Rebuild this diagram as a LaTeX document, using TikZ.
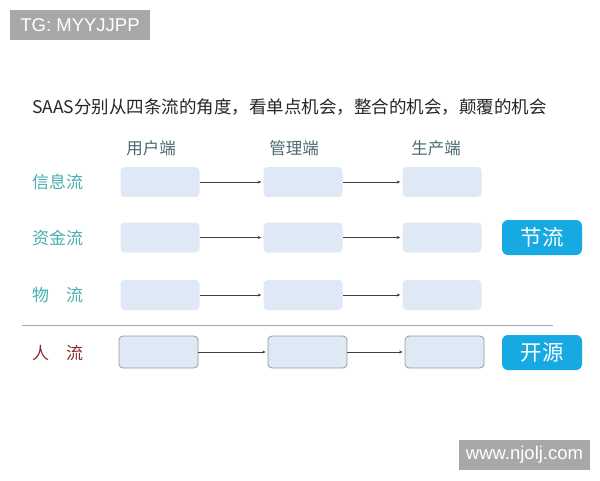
\documentclass[tikz,border=0pt]{standalone}
\usepackage{fontspec}
\setmainfont{Noto Sans CJK SC}
\newfontfamily\wmfont{Liberation Sans}
\usetikzlibrary{arrows.meta, positioning}

\definecolor{flowteal}{HTML}{48AEB1}
\definecolor{flowred}{HTML}{8E2A36}
\definecolor{headgray}{HTML}{4A6A72}
\definecolor{boxblue}{HTML}{DFE9F5}
\definecolor{btnblue}{HTML}{17A9E1}
\definecolor{wmgray}{HTML}{A8A8A8}

\tikzset{
  cell/.style={fill=boxblue, rounded corners=4pt, minimum width=79pt, minimum height=30pt, inner sep=0pt},
  pcell/.style={cell, draw=black!40, line width=0.8pt, minimum height=32pt},
  flow/.style={draw=black!75, line width=0.6pt, -{Stealth[length=3.5pt,width=3pt]}, shorten >=2pt},
  rowlabel/.style={font=\fontsize{17}{17}\selectfont, inner sep=0pt},
  btn/.style={fill=btnblue, rounded corners=6pt, minimum width=80pt, minimum height=35pt, text=white, font=\fontsize{21.5}{21.5}\selectfont, inner sep=0pt},
  wmark/.style={fill=wmgray, text=white, font=\wmfont\fontsize{18.5}{18.5}\selectfont, inner sep=0pt, minimum height=30pt}
}

\begin{document}
\begin{tikzpicture}[x=1pt, y=-1pt]
	\useasboundingbox (0,0) rectangle (600,480);
	% watermarks
	\node[wmark, minimum width=140pt] (tg) at (80,25) {TG: MYYJJPP\hspace{8pt}};
	\node[wmark, minimum width=131pt] (site) at (524.5,455) {www.njolj.com};
	% title
	\node[anchor=west, inner sep=0pt, text=black!85, font=\fontsize{17.5}{17.5}\selectfont] (title) at (32,107)
		{SAAS分别从四条流的角度，看单点机会，整合的机会，颠覆的机会};
	% column heads
	\foreach \name/\x/\txt in {user/151/用户端, admin/294/管理端, prod/436/生产端}
		\node[text=headgray, font=\fontsize{16.5}{16.5}\selectfont, inner sep=0pt] (\name) at (\x,148.5) {\txt};
	% rows: info, money, goods
	\foreach \r/\y/\txt in {i/182/信息流, m/237.5/资金流, g/295/物　流} {
		\node[rowlabel, text=flowteal] (l\r) at (57.5,\y) {\txt};
		\node[cell] (\r1) at (160,\y) {};
		\node[cell] (\r2) at (303,\y) {};
		\node[cell] (\r3) at (442,\y) {};
		\draw[flow] (\r1) -- (\r2);
		\draw[flow] (\r2) -- (\r3);
	}
	% separator
	\draw[black!35, line width=1pt] (22,325) -- (553,325);
	% people flow
	\node[rowlabel, text=flowred] (lp) at (57.5,353) {人　流};
	\node[pcell] (p1) at (158.5,352) {};
	\node[pcell] (p2) at (307.5,352) {};
	\node[pcell] (p3) at (444.5,352) {};
	\foreach \from/\to in {p1/p2,p2/p3}
		\draw[flow] (\from) -- (\to);
	% buttons
	\node[btn] (save) at (542,237.5) {节流};
	\node[btn] (grow) at (542,352.5) {开源};
\end{tikzpicture}
\end{document}
